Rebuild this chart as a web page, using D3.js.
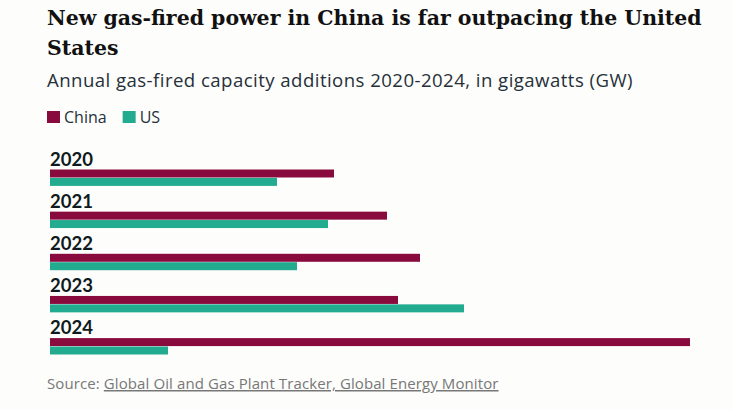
<!DOCTYPE html>
<html>
<head>
<meta charset="utf-8">
<script src="https://cdn.jsdelivr.net/npm/d3@7"></script>
<style>
  html, body { margin: 0; padding: 0; background: #fdfdfb; }
  svg { display: block; }
  .title { font-family: "DejaVu Serif", serif; font-weight: 700; fill: #111; }
  .subtitle { font-family: "Open Sans", sans-serif; fill: #25303a; }
  .legend { font-family: "Open Sans", sans-serif; fill: #25303a; }
  .year { font-family: Lato, sans-serif; font-weight: 700; fill: #0f1a20; }
  .source { font-family: "Open Sans", sans-serif; fill: #777; }
</style>
</head>
<body>
<div id="chart"></div>
<script>
const W = 733, H = 410;

const years = ["2020", "2021", "2022", "2023", "2024"];
const series = ["China", "US"];
const china = [14.2, 16.85, 18.5, 17.4, 32.0];
const us = [11.35, 13.9, 12.35, 20.7, 5.9];
const colors = ["#890b3d", "#22ab8f"];

const titleLines = ["New gas-fired power in China is far outpacing the United", "States"];
const subtitle = "Annual gas-fired capacity additions 2020-2024, in gigawatts (GW)";
const sourceLabel = "Source: ";
const sourceLink = "Global Oil and Gas Plant Tracker, Global Energy Monitor";

const rows = years.map((y, i) => ({ year: y, values: [china[i], us[i]] }));

const svg = d3.select("#chart").append("svg")
  .attr("width", W).attr("height", H);

svg.append("rect").attr("width", W).attr("height", H).attr("fill", "#fdfdfb");

// Title: size it so the long line runs to the same width as the original
const title = svg.append("text").attr("class", "title").attr("font-size", 20);
titleLines.forEach((t, i) => {
  title.append("tspan").attr("x", 47).attr("y", 25 + i * 30).text(t);
});
const w0 = title.select("tspan").node().getComputedTextLength();
title.attr("font-size", 20 * 655 / w0);

svg.append("text").attr("class", "subtitle")
  .attr("x", 47).attr("y", 87.3).attr("font-size", 18.6)
  .attr("letter-spacing", 0.45)
  .text(subtitle);

// Legend
const legend = svg.append("g").attr("transform", "translate(47,111)");
let lx = 0;
series.forEach((s, i) => {
  const g = legend.append("g").attr("transform", `translate(${lx},0)`);
  g.append("rect").attr("width", 13).attr("height", 12).attr("fill", colors[i]);
  const t = g.append("text").attr("class", "legend")
    .attr("x", 17).attr("y", 12).attr("font-size", 16).text(s);
  lx += 17 + t.node().getComputedTextLength() + 16;
});

// Scales
const x = d3.scaleLinear().domain([0, 32]).range([50, 690]);
const y = d3.scaleBand().domain(years).range([150, 150 + 42.15 * years.length]);
const ySub = d3.scaleBand().domain(series).range([0, 16.4]).paddingInner(0.05);

const groups = svg.append("g").selectAll("g")
  .data(rows).join("g")
  .attr("transform", d => `translate(0,${y(d.year)})`);

groups.append("text").attr("class", "year")
  .attr("x", 50).attr("y", 15.6).attr("font-size", 18.5)
  .text(d => d.year);

groups.selectAll("rect")
  .data(d => d.values.map((v, i) => ({ key: series[i], v })))
  .join("rect")
  .attr("x", x(0))
  .attr("y", d => 19.5 + ySub(d.key))
  .attr("width", d => x(d.v) - x(0))
  .attr("height", ySub.bandwidth())
  .attr("fill", (d, i) => colors[i]);

// Source
const src = svg.append("text").attr("class", "source")
  .attr("x", 47).attr("y", 389).attr("font-size", 15)
  .attr("letter-spacing", 0.1);
src.append("tspan").text(sourceLabel);
src.append("tspan").attr("text-decoration", "underline").text(sourceLink);
</script>
</body>
</html>
